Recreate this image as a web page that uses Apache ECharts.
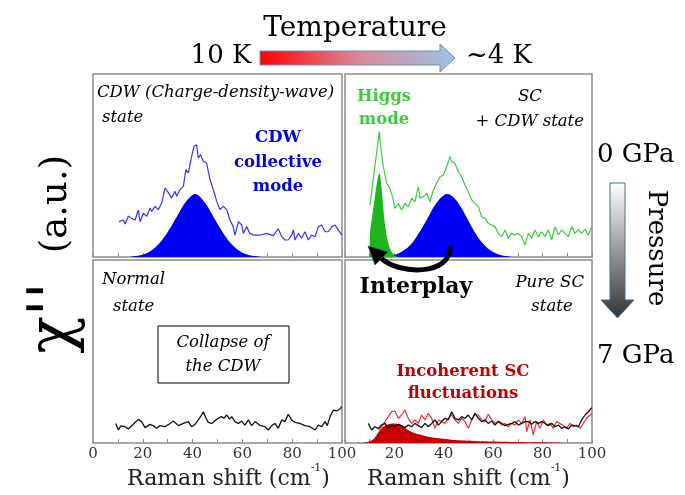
<!DOCTYPE html>
<html>
<head>
<meta charset="utf-8">
<script src="https://cdn.jsdelivr.net/npm/echarts/dist/echarts.min.js"></script>
<style>
html, body { margin: 0; padding: 0; background: #fff; }
#chart { width: 685px; height: 495px; }
</style>
</head>
<body>
<div id="chart"></div>
<script>
// spectra, x = Raman shift (cm-1), y = arbitrary units (0..100 per panel)
var cdwLineTL = [[10.4,19.3],[12.2,20.2],[12.9,18.0],[14.2,22.4],[15.5,21.1],[16.9,20.2],[18.2,25.7],[18.9,19.3],[20.2,23.9],[21.6,22.2],[22.9,26.8],[23.6,24.9],[24.9,27.7],[26.2,25.9],[27.6,29.5],[28.9,37.7],[30.3,35.0],[31.6,32.2],[32.9,35.9],[33.6,33.2],[34.9,36.8],[36.3,38.6],[37.3,47.7],[38.3,45.9],[39.6,55.0],[40.6,60.5],[41.6,61.4],[42.3,54.1],[43.2,55.9],[44.3,52.3],[45.6,51.4],[47.0,42.3],[48.3,36.8],[49.7,30.4],[51.0,25.9],[52.3,27.7],[53.7,25.9],[55.0,20.2],[56.3,16.6],[57.0,12.0],[58.4,19.3],[59.7,17.5],[60.4,12.9],[61.7,16.6],[63.0,12.9],[64.4,12.0],[67.0,12.0],[69.7,12.9],[72.4,11.7],[74.4,15.5],[75.8,11.1],[77.1,9.3],[78.4,9.3],[79.8,12.0],[80.5,14.8],[81.1,9.3],[82.5,12.9],[83.8,10.2],[85.1,13.8],[86.5,9.3],[87.8,12.0],[89.2,11.1],[90.5,16.6],[91.8,17.5],[93.2,13.8],[94.5,13.8],[95.9,16.6],[97.2,17.5],[98.5,14.8],[99.9,12.0]];
var cdwModeTL = [[15,0],[17,0.5],[19,1.0],[21,1.8],[23,3.2],[25,5.2],[27,8.0],[29,11.6],[31,15.8],[33,20.5],[35,25.3],[37,29.6],[39,32.8],[41,34.4],[43,32.8],[45,29.6],[47,25.3],[49,20.5],[51,15.8],[53,11.6],[55,8.0],[57,5.2],[59,3.2],[61,1.8],[63,1.0],[65,0.5],[67,0.2],[69,0]];

var scLineTR = [[10.1,28.4],[13.9,68.5],[14.6,58.0],[15.5,49.4],[16.9,40.3],[18.2,37.5],[19.6,31.1],[20.2,26.6],[21.6,29.3],[22.9,25.7],[24.3,29.3],[25.6,27.5],[27.0,32.1],[28.3,30.2],[29.7,38.4],[30.4,32.1],[31.7,33.0],[33.1,34.8],[34.4,30.2],[35.8,36.6],[37.1,40.3],[38.5,43.9],[39.8,44.8],[41.2,49.4],[42.5,54.8],[43.2,52.1],[44.5,51.2],[45.9,46.6],[47.2,43.9],[48.6,39.3],[49.9,35.7],[51.3,31.1],[52.6,29.3],[54.0,27.5],[55.3,22.0],[56.7,21.1],[58.0,18.4],[59.4,17.5],[60.7,16.6],[62.1,12.9],[63.4,11.1],[64.8,14.8],[66.1,10.2],[67.5,12.9],[68.8,12.0],[70.2,12.9],[71.5,11.1],[72.9,6.6],[74.2,12.9],[75.6,10.2],[76.9,14.8],[78.3,11.1],[79.6,13.8],[81.0,11.1],[82.3,14.8],[83.7,9.3],[85.0,16.6],[86.4,12.0],[87.7,14.8],[89.1,12.9],[90.4,11.1],[91.8,16.6],[93.1,12.9],[94.5,14.8],[95.8,12.9],[97.2,15.1],[98.5,12.0],[99.9,16.6]];
var higgsModeTR = [[10,0],[10.1,12],[11,22],[12,32],[13,41],[13.9,45.7],[14.6,40],[15.3,30],[16,20],[17,11],[18,5.5],[19,2.5],[20,1],[21,0.3],[22,0]];
var cdwModeTR = [[16,0],[18,0.6],[20,1.2],[22,2.2],[24,3.8],[26,6.0],[28,9.2],[30,13.2],[32,17.8],[34,22.6],[36,27.4],[38,31.2],[40,33.8],[41.2,34.4],[43,33.6],[45,31.0],[47,27.0],[49,22.2],[51,17.2],[53,12.6],[55,8.8],[57,5.8],[59,3.6],[61,2.1],[63,1.1],[65,0.5],[67,0.2],[69,0]];

var normalLineBL = [[9.1,10.7],[10.2,7.1],[11.1,9.3],[12.9,8.9],[14.2,7.7],[16.2,10.2],[18.2,12.9],[19.5,11.7],[20.9,8.4],[22.9,10.2],[24.2,9.5],[25.6,8.0],[26.9,9.5],[28.9,8.9],[30.9,10.7],[32.3,12.0],[34.3,9.5],[36.3,10.7],[38.3,11.7],[39.6,8.9],[41.0,10.2],[42.3,12.6],[43.2,14.4],[44.3,17.1],[45.4,13.5],[46.3,11.3],[47.7,10.7],[49.0,12.2],[50.3,13.5],[51.6,14.4],[52.6,13.5],[53.7,15.3],[54.8,13.1],[55.7,14.4],[57.0,11.7],[58.4,10.7],[59.7,12.0],[61.0,9.8],[62.4,12.6],[63.7,9.5],[65.1,11.7],[67.1,9.5],[69.1,8.9],[70.4,7.1],[71.8,9.5],[73.1,10.7],[74.4,8.0],[75.8,12.6],[77.1,11.7],[78.4,15.7],[79.8,12.6],[81.1,11.3],[83.1,10.7],[85.1,9.5],[87.1,8.9],[89.2,7.1],[90.5,9.8],[91.8,8.9],[93.2,11.7],[94.1,9.5],[95.2,14.4],[96.5,18.0],[97.9,17.5],[99.2,18.6],[99.9,19.9]];

var normalLineBR = [[9.4,10.7],[10.8,7.1],[12.1,8.9],[13.5,8.0],[14.8,9.8],[16.2,10.7],[17.5,8.0],[18.9,9.8],[20.2,8.9],[21.6,10.2],[22.9,9.5],[24.3,8.4],[25.6,9.8],[27.0,8.9],[28.3,10.7],[29.7,9.5],[31.0,8.4],[32.4,10.7],[33.7,8.9],[35.1,10.7],[36.4,12.6],[37.8,9.8],[39.1,11.7],[40.5,13.5],[41.8,12.6],[43.2,17.1],[44.5,13.5],[45.9,12.6],[47.2,14.4],[48.6,13.5],[49.9,15.3],[51.3,12.6],[52.6,16.2],[54.0,13.5],[55.3,11.7],[56.7,12.6],[58.0,10.7],[59.4,12.0],[60.7,9.8],[62.1,11.7],[63.4,10.7],[64.8,9.5],[66.1,10.2],[67.5,10.7],[68.8,11.7],[70.2,9.8],[71.5,10.7],[72.9,11.7],[74.2,11.7],[75.6,10.2],[76.9,11.7],[78.3,10.7],[79.6,11.7],[81.0,10.7],[82.3,9.5],[83.7,10.7],[85.0,8.9],[86.4,9.8],[87.7,8.0],[89.1,8.9],[90.4,7.7],[91.8,9.8],[93.1,9.5],[94.5,8.9],[95.8,12.6],[97.2,15.3],[98.5,17.1],[99.9,19.3]];
var scLineBR = [[13.5,7.1],[14.8,8.9],[16.2,11.7],[17.5,14.4],[18.9,17.1],[20.2,17.5],[21.6,13.5],[22.9,15.3],[24.3,18.0],[25.6,13.5],[27.0,10.7],[28.3,12.6],[29.7,10.7],[31.0,15.3],[32.4,12.6],[33.7,16.2],[35.1,13.5],[36.4,8.0],[37.8,12.6],[39.1,11.7],[40.5,10.7],[41.8,13.5],[43.2,15.3],[44.5,12.6],[45.9,10.7],[47.2,13.5],[48.6,11.7],[49.9,8.0],[51.3,12.6],[52.6,15.7],[54.0,15.3],[55.3,12.6],[56.7,11.7],[58.0,15.7],[59.4,12.6],[60.7,10.7],[62.1,12.0],[63.4,9.8],[64.8,10.7],[66.1,8.9],[67.5,10.7],[68.8,9.8],[70.2,12.6],[71.5,10.7],[72.9,14.4],[73.6,6.2],[74.9,12.6],[76.2,4.4],[77.6,11.7],[78.9,8.0],[80.3,12.6],[81.6,9.8],[83.0,10.7],[84.3,8.0],[85.7,11.7],[87.0,10.7],[88.4,9.5],[89.7,8.0],[91.1,10.7],[92.5,8.9],[93.8,9.8],[95.1,8.0],[96.5,10.7],[97.8,13.5],[99.2,15.3],[99.9,16.2]];
var scFluctBR = [[6,0],[8,0.3],[10,1.0],[11.5,2.0],[12.8,4.4],[14.2,7.1],[15.5,8.9],[17.5,10.2],[19.6,10.7],[21.6,10.2],[22.9,9.5],[24.3,8.4],[25.6,7.1],[28.3,5.3],[31,4.4],[35,3.1],[39,2.4],[44.5,1.6],[52.6,1.1],[63.4,0.7],[77,0.4],[87.5,0.2],[88,0]];

var xTicks = [0, 20, 40, 60, 80, 100];

var serif = '"DejaVu Serif"';

// panel boxes (left, top, width, height)
var panels = [[93, 74, 249, 183], [345, 74, 247, 183], [93, 260, 249, 183], [345, 260, 247, 183]];

var grids = panels.map(function (p) {
    return {
        show: true, left: p[0], top: p[1], width: p[2], height: p[3],
        borderColor: '#8c8c8c', borderWidth: 1.5, containLabel: false
    };
});

var ramanName = '{a|Raman shift (cm}{s|-1}{a|)}';
var ramanRich = {
    a: { fontFamily: serif, fontSize: 22, color: '#222', lineHeight: 32 },
    s: { fontFamily: serif, fontSize: 11, color: '#222', verticalAlign: 'top', lineHeight: 12 }
};

function makeX(i, withLabels, hideMin, namePadLeft) {
    var ax = {
        type: 'value', gridIndex: i, min: xTicks[0], max: xTicks[xTicks.length - 1], interval: 20,
        axisLine: { show: false },
        axisTick: { show: true, inside: true, length: 4, lineStyle: { color: '#8c8c8c' } },
        minorTick: { show: true, splitNumber: 2, length: 4, lineStyle: { color: '#8c8c8c' } },
        splitLine: { show: false },
        axisLabel: {
            show: withLabels, margin: 4, color: '#333', fontFamily: serif, fontSize: 15,
            showMinLabel: !hideMin
        }
    };
    if (withLabels) {
        ax.name = ramanName;
        ax.nameLocation = 'middle';
        ax.nameGap = 19;
        ax.nameTextStyle = { rich: ramanRich, padding: [0, 0, 0, namePadLeft] };
    }
    return ax;
}

var xAxes = [makeX(0, false, false, 0), makeX(1, false, false, 0), makeX(2, true, false, 22), makeX(3, true, true, 0)];
var yAxes = [0, 1, 2, 3].map(function (i) {
    return { type: 'value', gridIndex: i, min: 0, max: 100, show: false };
});

function lineS(i, data, color, w) {
    return {
        type: 'line', xAxisIndex: i, yAxisIndex: i, data: data, symbol: 'none',
        lineStyle: { color: color, width: w }, itemStyle: { color: color }, silent: true
    };
}
function fillS(i, data, color) {
    return {
        type: 'line', xAxisIndex: i, yAxisIndex: i, data: data, symbol: 'none', smooth: 0.4,
        lineStyle: { width: 0 }, areaStyle: { color: color, opacity: 1 }, itemStyle: { color: color }, silent: true
    };
}

var series = [
    fillS(0, cdwModeTL, '#0000f5'),
    lineS(0, cdwLineTL, '#3535ff', 1.2),
    fillS(1, cdwModeTR, '#0000f5'),
    fillS(1, higgsModeTR, '#1db41d'),
    lineS(1, scLineTR, '#3ccc3c', 1.2),
    lineS(2, normalLineBL, '#111111', 1.3),
    fillS(3, scFluctBR, '#c80000'),
    lineS(3, scLineBR, '#e8302c', 1.2),
    lineS(3, normalLineBR, '#111111', 1.3)
];

function txt(x, y, s, font, color, align, rot) {
    return {
        type: 'text', x: x, y: y, rotation: rot || 0, z: 100,
        style: { text: s, font: font, fill: color || '#000', textAlign: align || 'center', textVerticalAlign: 'middle' }
    };
}
var it = 'italic 16.5px ' + serif;
var bd = 'bold 16.5px ' + serif;

var graphics = [
    // temperature arrow
    {
        type: 'polygon', z: 90,
        shape: { points: [[260, 51], [440, 51], [440, 44], [455, 58], [440, 72], [440, 65], [260, 65]] },
        style: {
            fill: { type: 'linear', x: 0, y: 0, x2: 1, y2: 0, colorStops: [{ offset: 0, color: '#ff0000' }, { offset: 0.5, color: '#d9879a' }, { offset: 1, color: '#9dc3e6' }] },
            stroke: '#6f8fb5', lineWidth: 1
        }
    },
    txt(355, 29, 'Temperature', '28px ' + serif),
    txt(221, 56, '10 K', '26px ' + serif),
    txt(499, 56, '~4 K', '26px ' + serif),
    // pressure arrow
    {
        type: 'polygon', z: 90,
        shape: { points: [[610, 183], [625, 183], [625, 300], [634, 300], [617.5, 318], [601, 300], [610, 300]] },
        style: {
            fill: { type: 'linear', x: 0, y: 0, x2: 0, y2: 1, colorStops: [{ offset: 0, color: '#ffffff' }, { offset: 1, color: '#333333' }] },
            stroke: '#41719c', lineWidth: 1
        }
    },
    txt(597, 155, '0 GPa', '26px ' + serif, '#000', 'left'),
    txt(597, 356, '7 GPa', '26px ' + serif, '#000', 'left'),
    txt(656, 248, 'Pressure', '26px ' + serif, '#000', 'center', -Math.PI / 2),
    // y title
    txt(55, 318, "\u03C7''", '62px ' + serif, '#000', 'center', Math.PI / 2),
    txt(56, 204, '(a.u.)', '37px ' + serif, '#000', 'center', Math.PI / 2),
    // top left
    txt(97, 93, 'CDW (Charge-density-wave)', it, '#000', 'left'),
    txt(102, 118, 'state', it, '#000', 'left'),
    txt(278, 138, 'CDW', bd, '#0000ee'),
    txt(278, 163, 'collective', bd, '#0000ee'),
    txt(278, 187, 'mode', bd, '#0000ee'),
    // top right
    txt(384, 97, 'Higgs', bd, '#3ccc3c'),
    txt(384, 120, 'mode', bd, '#3ccc3c'),
    txt(530, 97, 'SC', it),
    txt(584, 122, '+ CDW state', it, '#000', 'right'),
    // bottom left
    txt(102, 280, 'Normal', it, '#000', 'left'),
    txt(113, 307, 'state', it, '#000', 'left'),
    { type: 'rect', z: 95, shape: { x: 158, y: 326, width: 131, height: 57 }, style: { fill: '#fff', stroke: '#000', lineWidth: 1 } },
    txt(223, 343, 'Collapse of', it),
    txt(223, 367, 'the CDW', it),
    // bottom right
    txt(416, 287, 'Interplay', 'bold 22px ' + serif),
    txt(584, 283, 'Pure SC', it, '#000', 'right'),
    txt(552, 307, 'state', it),
    txt(463, 372, 'Incoherent SC', bd, '#c00000'),
    txt(463, 394, 'fluctuations', bd, '#c00000'),
    // interplay arrow
    {
        type: 'bezierCurve', z: 110,
        shape: { x1: 450, y1: 246, cpx1: 452, cpy1: 276, cpx2: 398, cpy2: 275, x2: 381, y2: 258 },
        style: { stroke: '#000', lineWidth: 5, fill: null }
    },
    { type: 'polygon', z: 111, shape: { points: [[368, 246], [388, 252], [375, 265]] }, style: { fill: '#000', stroke: '#2f5597', lineWidth: 0.8 } }
];

var option = {
    backgroundColor: '#fff',
    animation: false,
    grid: grids,
    xAxis: xAxes,
    yAxis: yAxes,
    series: series,
    graphic: graphics
};

var chartDom = document.getElementById('chart');
var chart = echarts.init(chartDom);
chart.setOption(option);
</script>
</body>
</html>
